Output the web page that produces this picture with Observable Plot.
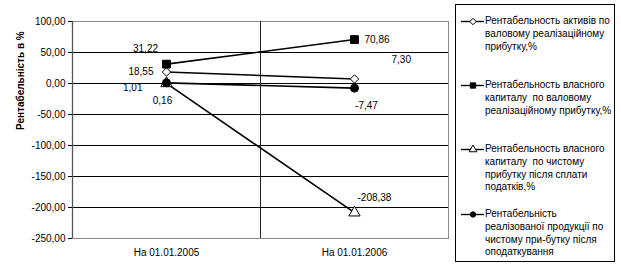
<!DOCTYPE html>
<html><head><meta charset="utf-8">
<script src="https://cdn.jsdelivr.net/npm/d3@7"></script>
<script src="https://cdn.jsdelivr.net/npm/@observablehq/plot@0.6"></script>
<style>
body{margin:0;background:#fff;font-family:"Liberation Sans",Arial,sans-serif;}
#wrap{position:relative;width:621px;height:274px;overflow:hidden;}
#chart{position:absolute;left:0;top:0;}
#legend{position:absolute;left:455px;top:4px;width:160px;height:258px;border:1px solid #000;box-sizing:border-box;font-size:10px;color:#000;}
.entry{position:absolute;left:0;width:100%;}
.entry svg{position:absolute;left:0;top:0;}
.entry .txt{position:absolute;left:29px;top:0;line-height:12.8px;white-space:pre;}
</style></head><body>
<div id="wrap"><div id="chart"></div><div id="legend"></div></div>
<script>
const categories = ["На 01.01.2005", "На 01.01.2006"];
const seriesNames = [
  "Рентабельность активів по валовому реалізаційному прибутку,%",
  "Рентабельность власного капиталу  по валовому реалізаційному прибутку,%",
  "Рентабельность власного капиталу  по чистому прибутку після сплати податків,%",
  "Рентабельність реалізованої продукції по чистому при-бутку після оподаткування"
];
const legendLines = [
  ["Рентабельность активів по", "валовому реалізаційному", "прибутку,%"],
  ["Рентабельность власного", "капиталу  по валовому", "реалізаційному прибутку,%"],
  ["Рентабельность власного", "капиталу  по чистому", "прибутку після сплати", "податків,%"],
  ["Рентабельність", "реалізованої продукції по", "чистому при-бутку після", "оподаткування"]
];
const assetsGross = [18.55, 7.30];
const equityGross = [31.22, 70.86];
const equityNet = [0.16, -208.38];
const salesNet = [1.01, -7.47];
const yTicks = [100, 50, 0, -50, -100, -150, -200, -250];
const yTitle = "Рентабельність в %";

const allValues = [assetsGross, equityGross, equityNet, salesNet];
const rows = allValues.flatMap((vals, s) => vals.map((v, i) => ({series: seriesNames[s], category: categories[i], value: v})));
const fmt = v => v.toFixed(2).replace(".", ",");

const W = 452, H = 274, ml = 72, mr = 4, mt = 21, mb = 36;
const bw = (W - ml - mr) / categories.length;

function pts(s) { return rows.filter(d => d.series === seriesNames[s]); }
function label(vals, i, opts) {
  return Plot.text([{category: categories[i], value: vals[i]}], {
    x: "category", y: "value", text: d => fmt(d.value), fontSize: 10, fill: "#000", ...opts
  });
}

const chart = Plot.plot({
  width: W, height: H,
  marginLeft: ml, marginRight: mr, marginTop: mt, marginBottom: mb,
  style: {fontFamily: "'Liberation Sans', Arial, sans-serif", fontSize: "10px", color: "#000", background: "#fff", overflow: "visible"},
  x: {type: "band", domain: categories, padding: 0},
  y: {domain: [yTicks[yTicks.length - 1], yTicks[0]]},
  marks: [
    Plot.ruleY(yTicks.slice(1, -1), {stroke: "#000", strokeWidth: 1}),
    Plot.frame({stroke: "#8a8a8a"}),
    Plot.ruleX([categories[1]], {dx: -bw / 2, stroke: "#222"}),
    Plot.ruleX([categories[0]], {dx: -bw / 2, stroke: "#555", strokeWidth: 1.3}),
    Plot.axisY({ticks: yTicks, tickFormat: fmt, tickSize: 4, tickPadding: 3, label: null, fontSize: 10}),
    Plot.axisX({tickSize: 0, tickPadding: 10, label: null, fontSize: 10}),
    Plot.text([yTitle], {frameAnchor: "left", rotate: -90, dx: -52, fontWeight: "bold", fontSize: 10}),
    Plot.line(rows, {x: "category", y: "value", z: "series", stroke: "#000", strokeWidth: 1.6}),
    Plot.dot(pts(0), {x: "category", y: "value", symbol: "diamond2", r: 3.8, fill: "#fff", stroke: "#000", strokeWidth: 1}),
    Plot.dot(pts(1), {x: "category", y: "value", symbol: "square", r: 4.4, fill: "#000", stroke: "#000", strokeWidth: 1}),
    Plot.dot(pts(2), {x: "category", y: "value", symbol: "triangle", r: 4.2, fill: "#fff", stroke: "#000", strokeWidth: 1}),
    Plot.dot(pts(3), {x: "category", y: "value", symbol: "circle", r: 4, fill: "#000", stroke: "#000", strokeWidth: 1}),
    label(equityGross, 0, {textAnchor: "middle", dx: -21, dy: -15}),
    label(assetsGross, 0, {textAnchor: "end", dx: -13, dy: 0}),
    label(salesNet, 0, {textAnchor: "end", dx: -24, dy: 5}),
    label(equityNet, 0, {textAnchor: "middle", dx: -4, dy: 17}),
    label(equityGross, 1, {textAnchor: "start", dx: 10, dy: 0}),
    label(assetsGross, 1, {textAnchor: "start", dx: 37, dy: -19}),
    label(salesNet, 1, {textAnchor: "middle", dx: 12, dy: 18}),
    label(equityNet, 1, {textAnchor: "start", dx: 3, dy: -15})
  ]
});
document.getElementById("chart").appendChild(chart);

// legend
const symbols = [d3.symbolDiamond2, d3.symbolSquare, d3.symbolTriangle, d3.symbolCircle];
const fills = ["#fff", "#000", "#fff", "#000"];
const sizes = [26, 28, 26, 22];
const entryTops = [10, 74, 138, 203];
const legend = d3.select("#legend");
legendLines.forEach((lines, s) => {
  const e = legend.append("div").attr("class", "entry").style("top", entryTops[s] + "px");
  const svg = e.append("svg").attr("width", 30).attr("height", 14);
  svg.append("line").attr("x1", 5).attr("x2", 28).attr("y1", 6.5).attr("y2", 6.5).attr("stroke", "#000").attr("stroke-width", 1.4);
  svg.append("path").attr("d", d3.symbol(symbols[s], sizes[s])()).attr("transform", "translate(17,6.5)")
    .attr("fill", fills[s]).attr("stroke", "#000").attr("stroke-width", 1);
  e.append("div").attr("class", "txt").text(lines.join("\n")).attr("title", seriesNames[s]);
});
</script>
</body></html>
